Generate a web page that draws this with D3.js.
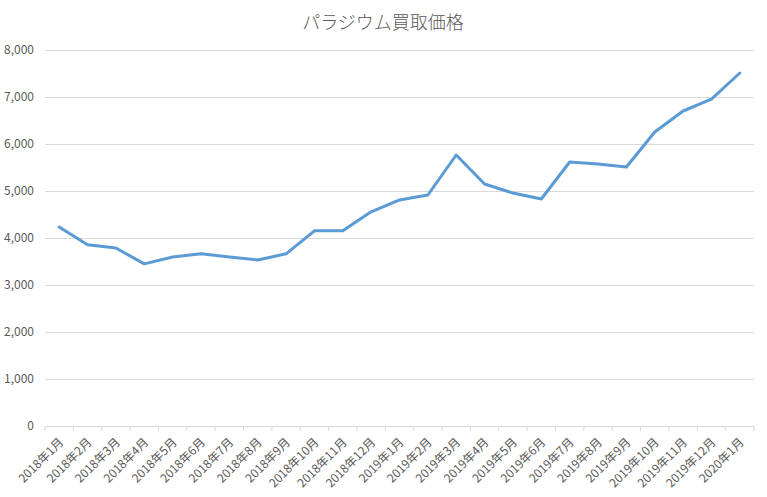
<!DOCTYPE html>
<html><head><meta charset="utf-8">
<script src="https://cdn.jsdelivr.net/npm/d3@7"></script>
<style>body{margin:0;background:#fff;}svg{display:block;}</style>
</head><body>
<svg id="c" width="767" height="497"></svg>
<script>
const title = "パラジウム買取価格";
const categories = ["2018年1月","2018年2月","2018年3月","2018年4月","2018年5月","2018年6月","2018年7月","2018年8月","2018年9月","2018年10月","2018年11月","2018年12月","2019年1月","2019年2月","2019年3月","2019年4月","2019年5月","2019年6月","2019年7月","2019年8月","2019年9月","2019年10月","2019年11月","2019年12月","2020年1月"];
const values = [4234,3855,3787,3450,3596,3664,3596,3532,3664,4152,4152,4557,4809,4915,5766,5149,4957,4830,5617,5574,5511,6255,6702,6957,7511];
const yTicks = [0,1000,2000,3000,4000,5000,6000,7000,8000];

const svg = d3.select("#c");
const m = {l:45, r:754, t:50, b:426};
const x = d3.scaleBand().domain(categories).range([m.l, m.r]);
const y = d3.scaleLinear().domain([0,8000]).range([m.b, m.t]);
const font = "'Noto Sans CJK JP', 'Noto Sans', sans-serif";

svg.append("text").attr("x", 383).attr("y", 29).attr("text-anchor","middle")
  .attr("font-family", font).attr("font-size", 18).attr("font-weight", 300).attr("fill","#595959").text(title);

const ya = svg.append("g").attr("transform",`translate(${m.l},0)`)
  .call(d3.axisLeft(y).tickValues(yTicks).tickSize(-(m.r-m.l)).tickPadding(10).tickFormat(d3.format(",")));
ya.select(".domain").remove();
ya.selectAll(".tick line").attr("stroke", d => d===0 ? "none" : "#d9d9d9");
ya.selectAll(".tick text").attr("font-family", font).attr("font-size", 12).attr("fill","#595959")
  .attr("x", -11);

const xa = svg.append("g").attr("transform",`translate(0,${m.b})`)
  .call(d3.axisBottom(x).tickSize(0).tickFormat(d=>d));
xa.select(".domain").attr("stroke","#d9d9d9");
const bounds = categories.map(c => x(c)).concat([m.r]);
svg.append("g").selectAll("line").data(bounds).join("line")
  .attr("x1", d=>d).attr("x2", d=>d).attr("y1", m.b).attr("y2", m.b+5).attr("stroke","#d9d9d9");
xa.selectAll(".tick text").attr("font-family", font).attr("font-size", 12).attr("fill","#595959")
  .attr("text-anchor","end").attr("dy", 0).attr("y", 0)
  .attr("transform","translate(5,17) rotate(-45)");

const line = d3.line().x((d,i)=>x(categories[i]) + x.bandwidth()/2).y(d=>y(d));
svg.append("path").datum(values).attr("d", line).attr("fill","none")
  .attr("stroke","#5b9bd5").attr("stroke-width", 3).attr("stroke-linejoin","round").attr("stroke-linecap","round");
</script>
</body></html>
